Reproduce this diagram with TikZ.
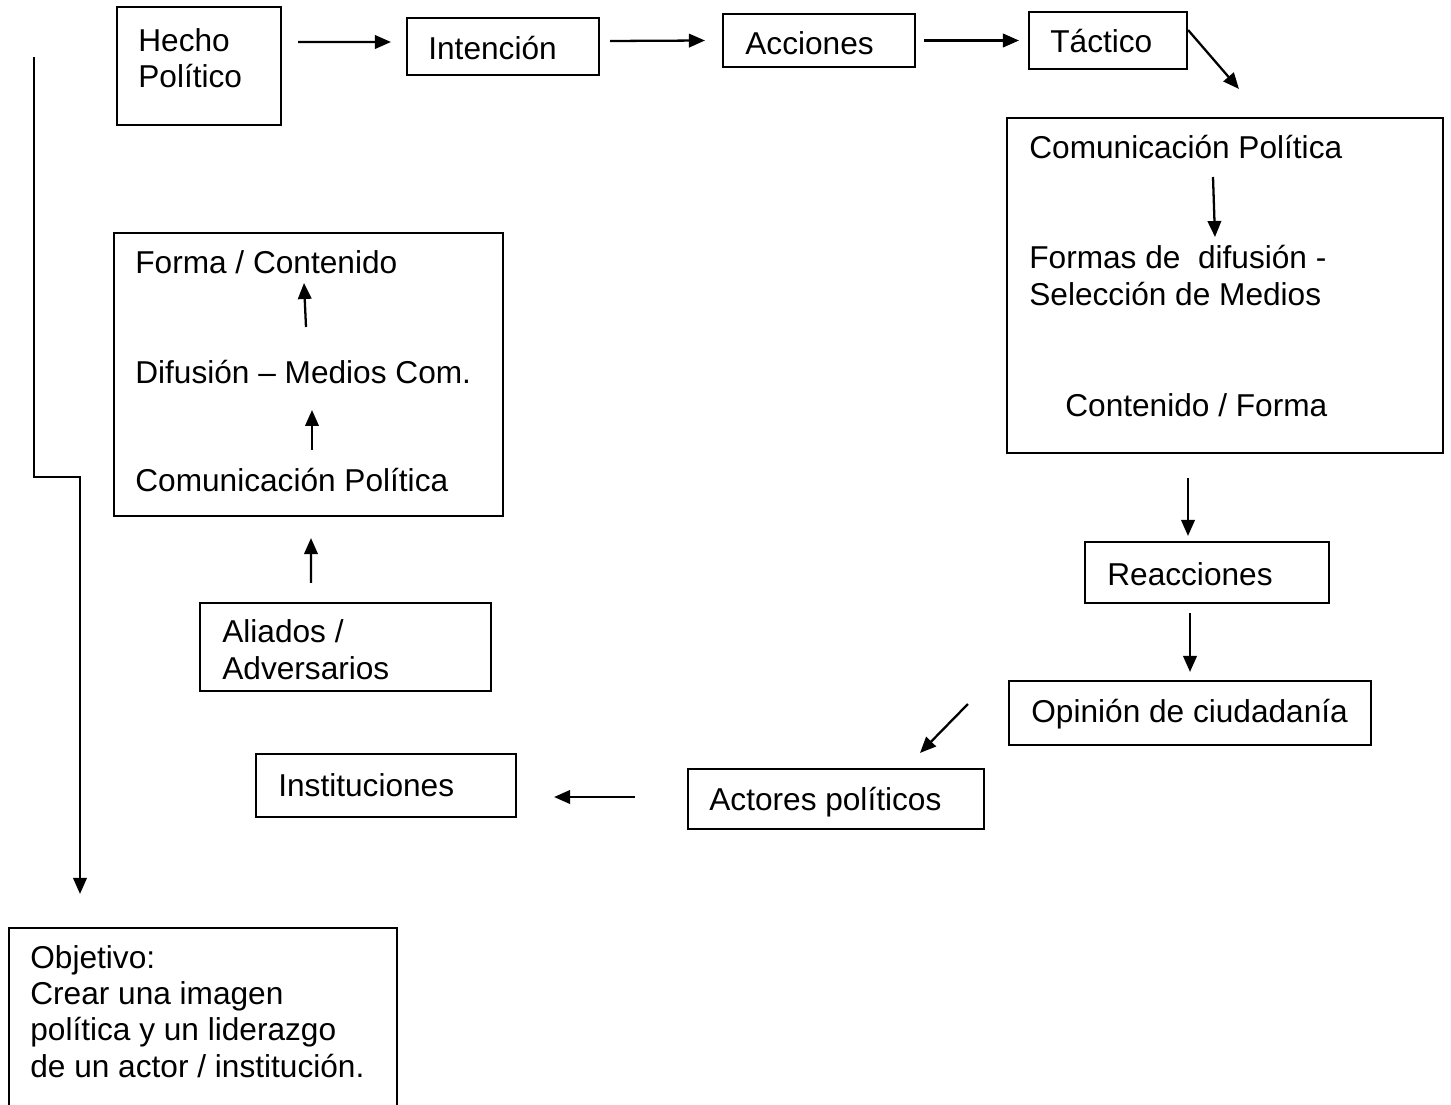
\documentclass[tikz,border=0pt]{standalone}
\usepackage{fontspec}
\setmainfont{Liberation Sans}
\usetikzlibrary{arrows.meta, fit}
\tikzset{
    box/.style={draw, line width=1.2pt, inner sep=0pt},
    txt/.style={anchor=base west, inner sep=0pt, align=left, font=\fontsize{18}{20.5}\selectfont},
    arr/.style={line width=1.3pt, -{Triangle[length=0.32cm, width=0.27cm]}}
}

\begin{document}
\begin{tikzpicture}[x=0.02cm, y=-0.02cm]
    \useasboundingbox (0,0) rectangle (1451,1105);
    \clip (0,0) rectangle (1451,1105);

    % top row
    \node[box, fit={(117,7) (281,125)}] (hecho) {};
    \node[box, fit={(407,18) (599,75)}] (intencion) {};
    \node[box, fit={(723,14) (915,67)}] (acciones) {};
    \node[box, fit={(1029,12) (1187,69)}] (tactico) {};
    \node[txt] (hechoT) at (138,88) {Hecho\\Político};
    \node[txt] (intencionT) at (428,60) {Intención};
    \node[txt] (accionesT) at (745,55) {Acciones};
    \node[txt] (tacticoT) at (1050,53) {Táctico};

    % right column
    \node[box, fit={(1007,118) (1443,453)}] (comun) {};
    \node[txt] (comT1) at (1029,158) {Comunicación Política};
    \node[txt] (formasT) at (1029,305) {Formas de~ difusión -\\Selección de Medios};
    \node[txt] (contT) at (1065,416) {Contenido / Forma};
    \node[box, fit={(1085,542) (1329,603)}] (reacc) {};
    \node[txt] (reaccT) at (1107,585) {Reacciones};
    \node[box, fit={(1009,681) (1371,745)}] (opinion) {};
    \node[txt] (opinionT) at (1031,722) {Opinión de ciudadanía};

    % bottom row
    \node[box, fit={(688,769) (984,829)}] (actores) {};
    \node[txt] (actoresT) at (709,810) {Actores políticos};
    \node[box, fit={(256,754) (516,817)}] (instit) {};
    \node[txt] (institT) at (278,796) {Instituciones};

    % left column
    \node[box, fit={(114,233) (503,516)}] (difus) {};
    \node[txt] (formaT) at (135,273) {Forma / Contenido};
    \node[txt] (difT) at (135,383) {Difusión – Medios Com.};
    \node[txt] (comT2) at (135,491) {Comunicación Política};
    \node[box, fit={(200,603) (491,691)}] (aliados) {};
    \node[txt] (aliadosT) at (222,679) {Aliados /\\Adversarios};
    \node[box, fit={(9,928) (397,1130)}] (objetivo) {};
    \node[txt] (objT) at (30,1077) {Objetivo:\\Crear una imagen\\política y un liderazgo\\de un actor / institución.};

    % arrows
    \draw[arr] ([shift={(16,-24)}]hecho.east) -- ([shift={(-15,-4.5)}]intencion.west);
    \draw[arr] ([shift={(10,-5.5)}]intencion.east) -- ([shift={(-17,0)}]acciones.west);
    \draw[arr] ([shift={(8,0)}]acciones.east) -- ([shift={(-9,0)}]tactico.west);
    \draw[arr] ([shift={(0,-10.5)}]tactico.east) -- ([shift={(233,-28)}]comun.north west);
    \draw[arr] ([shift={(184,19)}]comT1.base west) -- ([shift={(186,-68)}]formasT.base west);
    \draw[arr] ([shift={(-37,24)}]comun.south) -- ([shift={(-19,-5)}]reacc.north);
    \draw[arr] ([shift={(-17,9)}]reacc.south) -- ([shift={(0,-8)}]opinion.north);
    \draw[arr] ([shift={(-40,-9)}]opinion.west) -- ([shift={(84,-15)}]actores.north);
    \draw[arr] ([shift={(-52,-2)}]actores.west) -- ([shift={(37,11.5)}]instit.east);
    \draw[arr] ([shift={(171,-56)}]difT.base west) -- ([shift={(169,10)}]formaT.base west);
    \draw[arr] ([shift={(177,-41)}]comT2.base west) -- ([shift={(177,27)}]difT.base west);
    \draw[arr] ([shift={(-34.5,-19)}]aliados.north) -- ([shift={(2.5,21)}]difus.south);

    % line down to the goal
    \coordinate (lstart) at (34,57);
    \draw[arr] (lstart) -- (34,477) -- (80,477) -- ([shift={(-123,-33)}]objetivo.north);
\end{tikzpicture}
\end{document}
